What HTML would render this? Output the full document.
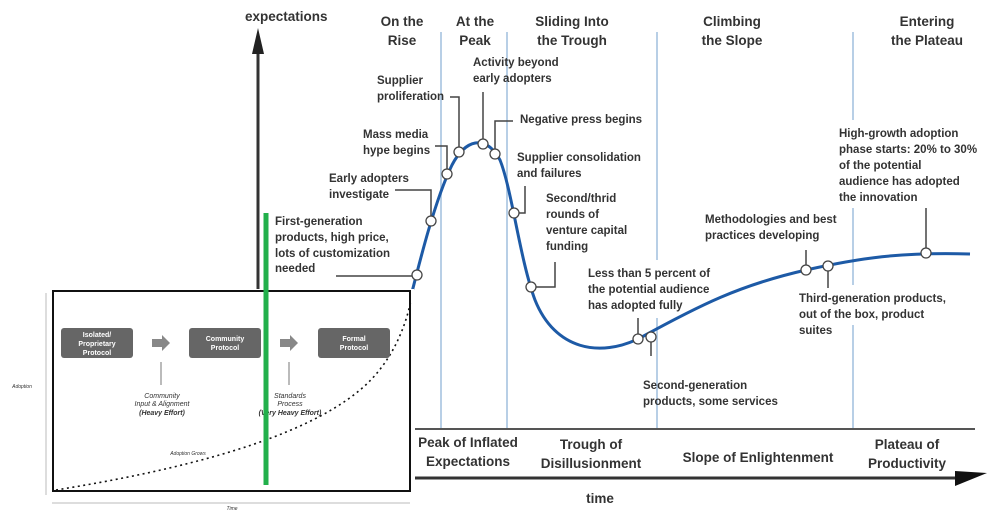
<!DOCTYPE html>
<html><head><meta charset="utf-8"><style>
html,body{margin:0;padding:0;background:#fff;}
svg{display:block;}
.t{font-family:"Liberation Sans",sans-serif;font-size:11.5px;font-weight:bold;fill:#333;}
.h{font-family:"Liberation Sans",sans-serif;font-size:13.5px;font-weight:bold;fill:#333;}
.s{font-family:"Liberation Sans",sans-serif;font-size:7px;font-weight:bold;fill:#fff;}
.i{font-family:"Liberation Sans",sans-serif;font-size:7px;font-style:italic;fill:#333;}
</style></head><body>
<svg width="1000" height="513" viewBox="0 0 1000 513" xmlns="http://www.w3.org/2000/svg">
<g stroke="#b8cfe6" stroke-width="2">
<line x1="441" y1="32" x2="441" y2="429"/>
<line x1="507" y1="32" x2="507" y2="429"/>
<line x1="657" y1="32" x2="657" y2="260"/>
<line x1="657" y1="318" x2="657" y2="429"/>
<line x1="853" y1="32" x2="853" y2="120"/>
<line x1="853" y1="208" x2="853" y2="285"/>
<line x1="853" y1="325" x2="853" y2="429"/>
</g>
<line x1="258" y1="50" x2="258" y2="292" stroke="#333" stroke-width="3"/>
<polygon points="252,54 258,28 264,54" fill="#222"/>
<text x="245" y="21" class="h">expectations</text>
<g class="h" text-anchor="middle">
<text x="402" y="26">On the</text><text x="402" y="45">Rise</text>
<text x="475" y="26">At the</text><text x="475" y="45">Peak</text>
<text x="572" y="26">Sliding Into</text><text x="572" y="45">the Trough</text>
<text x="732" y="26">Climbing</text><text x="732" y="45">the Slope</text>
<text x="927" y="26">Entering</text><text x="927" y="45">the Plateau</text>
</g>
<line x1="415" y1="429" x2="975" y2="429" stroke="#555" stroke-width="2"/>
<line x1="415" y1="478" x2="962" y2="478" stroke="#333" stroke-width="3"/>
<polygon points="955,471 987,473 955,486" fill="#111"/>
<g class="h" text-anchor="middle">
<text x="468" y="447">Peak of Inflated</text><text x="468" y="466">Expectations</text>
<text x="591" y="449">Trough of</text><text x="591" y="468">Disillusionment</text>
<text x="758" y="462">Slope of Enlightenment</text>
<text x="907" y="449">Plateau of</text><text x="907" y="468">Productivity</text>
<text x="600" y="503">time</text>
</g>
<g stroke="#444" stroke-width="1.5" fill="none">
<polyline points="336,276 417,276"/>
<polyline points="395,190 431,190 431,221"/>
<polyline points="435,146 447,146 447,174"/>
<polyline points="450,97 459,97 459,152"/>
<polyline points="483,144 483,92"/>
<polyline points="495,154 495,121 513,121"/>
<polyline points="514,213 525,213 525,186"/>
<polyline points="531,287 555,287 555,262"/>
<polyline points="638,339 638,318"/>
<polyline points="651,337 651,356"/>
<polyline points="806,270 806,250"/>
<polyline points="828,266 828,288"/>
<polyline points="926,253 926,208"/>
</g>
<path d="M410,300 C420,260 435,200 452,165 C465,140 485,133 500,160 C512,190 520,260 535,300 C555,350 600,358 640,338 C700,305 740,285 806,270 C860,258 900,252 970,254" fill="none" stroke="#1d5aa6" stroke-width="3"/>
<g fill="#fff" stroke="#444" stroke-width="1.3">
<circle cx="417" cy="275" r="5"/><circle cx="431" cy="221" r="5"/><circle cx="447" cy="174" r="5"/>
<circle cx="459" cy="152" r="5"/><circle cx="483" cy="144" r="5"/><circle cx="495" cy="154" r="5"/>
<circle cx="514" cy="213" r="5"/><circle cx="531" cy="287" r="5"/><circle cx="638" cy="339" r="5"/>
<circle cx="651" cy="337" r="5"/><circle cx="806" cy="270" r="5"/><circle cx="828" cy="266" r="5"/>
<circle cx="926" cy="253" r="5"/>
</g>
<g class="t">
<text x="275" y="225">First-generation</text><text x="275" y="241">products, high price,</text><text x="275" y="257">lots of customization</text><text x="275" y="272">needed</text>
<text x="329" y="182">Early adopters</text><text x="329" y="198">investigate</text>
<text x="363" y="138">Mass media</text><text x="363" y="154">hype begins</text>
<text x="377" y="84">Supplier</text><text x="377" y="100">proliferation</text>
<text x="473" y="66">Activity beyond</text><text x="473" y="82">early adopters</text>
<text x="520" y="123">Negative press begins</text>
<text x="517" y="161">Supplier consolidation</text><text x="517" y="177">and failures</text>
<text x="546" y="202">Second/thrid</text><text x="546" y="218">rounds of</text><text x="546" y="234">venture capital</text><text x="546" y="250">funding</text>
<text x="588" y="277">Less than 5 percent of</text><text x="588" y="293">the potential audience</text><text x="588" y="309">has adopted fully</text>
<text x="643" y="389">Second-generation</text><text x="643" y="405">products, some services</text>
<text x="705" y="223">Methodologies and best</text><text x="705" y="239">practices developing</text>
<text x="799" y="302">Third-generation products,</text><text x="799" y="318">out of the box, product</text><text x="799" y="334">suites</text>
<text x="839" y="137">High-growth adoption</text><text x="839" y="153">phase starts: 20% to 30%</text><text x="839" y="169">of the potential</text><text x="839" y="185">audience has adopted</text><text x="839" y="201">the innovation</text>
</g>
<rect x="0" y="289" width="414" height="224" fill="#fff"/>
<line x1="46" y1="293" x2="46" y2="495" stroke="#bbb" stroke-width="1"/>
<line x1="52" y1="503" x2="410" y2="503" stroke="#bbb" stroke-width="1"/>
<rect x="53" y="291" width="357" height="200" fill="none" stroke="#111" stroke-width="2"/>
<path d="M56,490 C180,470 300,440 360,390 C390,365 405,330 411,300" fill="none" stroke="#111" stroke-width="1.6" stroke-dasharray="2,3.5"/>
<g fill="#666"><rect x="61" y="328" width="72" height="30" rx="3"/><rect x="189" y="328" width="72" height="30" rx="3"/><rect x="318" y="328" width="72" height="30" rx="3"/></g>
<g fill="#888"><polygon points="152,339 162,339 162,335 170,343 162,351 162,347 152,347"/><polygon points="280,339 290,339 290,335 298,343 290,351 290,347 280,347"/></g>
<g class="s" text-anchor="middle">
<text x="97" y="337">Isolated/</text><text x="97" y="346">Proprietary</text><text x="97" y="355">Protocol</text>
<text x="225" y="341">Community</text><text x="225" y="350">Protocol</text>
<text x="354" y="341">Formal</text><text x="354" y="350">Protocol</text>
</g>
<g stroke="#555" stroke-width="0.8"><line x1="161" y1="362" x2="161" y2="385"/><line x1="289" y1="362" x2="289" y2="385"/></g>
<g class="i" text-anchor="middle">
<text x="162" y="398">Community</text><text x="162" y="406">Input &amp; Alignment</text><text x="162" y="415" font-weight="bold">(Heavy Effort)</text>
<text x="290" y="398">Standards</text><text x="290" y="406">Process</text><text x="290" y="415" font-weight="bold">(Very Heavy Effort)</text>
<text x="22" y="388" font-size="5">Adoption</text>
<text x="188" y="455" font-size="5">Adoption Grows</text>
<text x="232" y="510" font-size="5">Time</text>
</g>
<line x1="266" y1="213" x2="266" y2="485" stroke="#22b04b" stroke-width="5"/>
</svg>
</body></html>
